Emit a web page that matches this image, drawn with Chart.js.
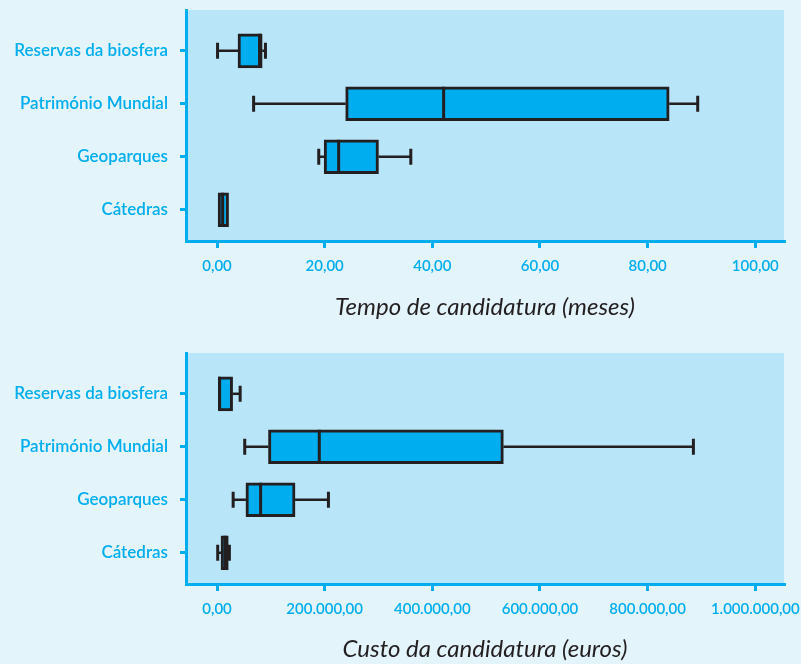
<!DOCTYPE html>
<html lang="pt">
<head>
<meta charset="UTF-8">
<title>Candidaturas</title>
<script src="https://cdn.jsdelivr.net/npm/chart.js@4"></script>
<style>
    html, body {
        margin: 0;
        padding: 0;
        background: #e3f4fb;
    }
    canvas {
        display: block;
    }
</style>
</head>
<body>
<canvas id="graficoTempo" width="801" height="343"></canvas>
<canvas id="graficoCusto" width="801" height="321"></canvas>

<script>
    // categorias (de cima para baixo)
    const categorias = ['Reservas da biosfera', 'Património Mundial', 'Geoparques', 'Cátedras'];

    // tempo de candidatura (meses)
    const tempoMin = [0.1, 6.8, 18.9, 0.2];
    const tempoQ1 = [3.9, 23.9, 19.9, 0.2];
    const tempoMediana = [7.9, 42.1, 22.6, 1.05];
    const tempoQ3 = [8.4, 84.0, 30.0, 2.15];
    const tempoMax = [9.0, 89.3, 36.0, 2.15];
    const tempoTicks = [0, 20, 40, 60, 80, 100];

    // custo da candidatura (euros)
    const custoMin = [0, 51500, 30000, 1300];
    const custoQ1 = [0, 95600, 53700, 7400];
    const custoMediana = [4600, 190000, 81000, 15000];
    const custoQ3 = [29000, 532000, 145000, 21000];
    const custoMax = [43000, 885000, 207000, 23000];
    const custoTicks = [0, 200000, 400000, 600000, 800000, 1000000];

    const ciano = '#00aeef';
    const escuro = '#231f20';
    const fundoGrafico = '#b9e5f8';

    function formatar(v) {
        let [inteiro, dec] = v.toFixed(2).split('.');
        inteiro = inteiro.replace(/\B(?=(\d{3})+(?!\d))/g, '.');
        return inteiro + ',' + dec;
    }

    // sem margens extra por causa dos rotulos
    function semMargens(s) {
        s.paddingTop = 0;
        s.paddingBottom = 0;
        s.paddingLeft = 0;
        s.paddingRight = 0;
    }

    // fundo da area do grafico + bigodes e medianas
    function caixas(d) {
        return {
            id: 'caixas',
            beforeDraw(chart) {
                const { ctx, chartArea: a } = chart;
                ctx.save();
                ctx.fillStyle = fundoGrafico;
                ctx.fillRect(a.left, a.top, a.right - a.left, a.bottom - a.top);
                ctx.restore();
            },
            afterDatasetsDraw(chart) {
                const { ctx, scales: { x, y } } = chart;
                const alt = 34;
                ctx.save();
                ctx.strokeStyle = escuro;
                for (let i = 0; i < d.q1.length; i++) {
                    const yc = y.getPixelForValue(i);
                    const xmin = x.getPixelForValue(d.min[i]);
                    const xq1 = x.getPixelForValue(d.q1[i]);
                    const xmed = x.getPixelForValue(d.med[i]);
                    const xq3 = x.getPixelForValue(d.q3[i]);
                    const xmax = x.getPixelForValue(d.max[i]);

                    ctx.lineWidth = 2.5;
                    ctx.beginPath();
                    if (xq1 - xmin > 1) {
                        ctx.moveTo(xmin, yc); ctx.lineTo(xq1, yc);
                    }
                    if (xmax - xq3 > 1) {
                        ctx.moveTo(xq3, yc); ctx.lineTo(xmax, yc);
                    }
                    ctx.stroke();

                    ctx.lineWidth = 3;
                    ctx.beginPath();
                    if (xq1 - xmin > 1) {
                        ctx.moveTo(xmin, yc - 8); ctx.lineTo(xmin, yc + 8);
                    }
                    if (xmax - xq3 > 1) {
                        ctx.moveTo(xmax, yc - 8); ctx.lineTo(xmax, yc + 8);
                    }
                    ctx.moveTo(xmed, yc - alt / 2); ctx.lineTo(xmed, yc + alt / 2);
                    ctx.stroke();
                }
                ctx.restore();
            }
        };
    }

    function criarGrafico(id, titulo, minimo, q1, mediana, q3, maximo, ticks, xMin, xMax, alturaEixo, tituloPad) {
        return new Chart(document.getElementById(id), {
            type: 'bar',
            data: {
                datasets: [{
                    data: q1.map((v, i) => ({ x: [v, q3[i]], y: i })),
                    backgroundColor: ciano,
                    borderColor: escuro,
                    borderWidth: 3,
                    borderSkipped: false,
                    barThickness: 34
                }]
            },
            options: {
                indexAxis: 'y',
                responsive: false,
                animation: false,
                layout: { padding: { top: 10, right: 17, left: 0, bottom: 0 } },
                plugins: {
                    legend: { display: false },
                    tooltip: { enabled: false }
                },
                scales: {
                    y: {
                        type: 'linear',
                        reverse: true,
                        offset: false,
                        min: -0.77,
                        max: 3.59,
                        afterBuildTicks: s => { s.ticks = categorias.map((c, i) => ({ value: i })); },
                        afterFit: s => { s.width = 186; semMargens(s); },
                        border: { display: true, color: ciano, width: 3 },
                        grid: { offset: false, drawOnChartArea: false, color: ciano, lineWidth: 3, tickLength: 6 },
                        ticks: {
                            callback: v => categorias[v],
                            color: ciano,
                            padding: 12,
                            font: { family: 'Lato', size: 17, weight: '600' }
                        }
                    },
                    x: {
                        type: 'linear',
                        min: xMin,
                        max: xMax,
                        afterBuildTicks: s => { s.ticks = ticks.map(v => ({ value: v })); },
                        afterFit: s => { s.height = alturaEixo; semMargens(s); },
                        border: { display: true, color: ciano, width: 3 },
                        grid: { drawOnChartArea: false, color: ciano, lineWidth: 3, tickLength: 7 },
                        ticks: {
                            callback: v => formatar(v),
                            color: ciano,
                            padding: 9,
                            maxRotation: 0,
                            autoSkip: false,
                            font: { family: 'Lato', size: 15, weight: '600' }
                        },
                        title: {
                            display: true,
                            text: titulo,
                            color: escuro,
                            padding: { top: 0, bottom: tituloPad },
                            font: { family: 'Lato', size: 24, style: 'italic' }
                        }
                    }
                }
            },
            plugins: [caixas({ min: minimo, q1: q1, med: mediana, q3: q3, max: maximo })]
        });
    }

    criarGrafico('graficoTempo', 'Tempo de candidatura (meses)',
        tempoMin, tempoQ1, tempoMediana, tempoQ3, tempoMax, tempoTicks, -5.76, 105.33, 102, 21);
    criarGrafico('graficoCusto', 'Custo da candidatura (euros)',
        custoMin, custoQ1, custoMediana, custoQ3, custoMax, custoTicks, -57600, 1053300, 80, 0);
</script>
</body>
</html>
